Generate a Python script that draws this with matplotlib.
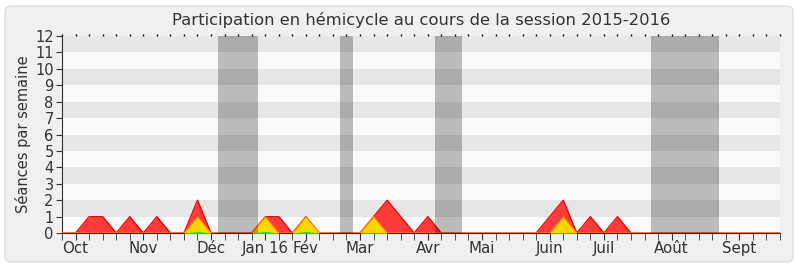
import matplotlib
matplotlib.use('Agg')
import matplotlib.pyplot as plt
from matplotlib.patches import FancyBboxPatch
import numpy as np

# weekly values, week 0 .. 53
weeks = np.arange(54)
presence = [0, 0, 1, 1, 0, 1, 0, 1, 0, 0, 2, 0, 0, 0, 0, 1, 1, 0, 1, 0,
            0, 0, 0, 1, 2, 1, 0, 1, 0, 0, 0, 0, 0, 0, 0, 0, 1, 2, 0, 1,
            0, 1, 0, 0, 0, 0, 0, 0, 0, 0, 0, 0, 0, 0]
interventions = [0] * 54
for w in (10, 15, 18, 23, 37):
    interventions[w] = 1
courtes = [0] * 54
for w, v in ((10, 0.1), (15, 0.1), (18, 0.1), (23, 0.06), (37, 0.05)):
    courtes[w] = v

# holidays (start, end) in weeks
vacances = [(11.5, 14.5), (20.5, 21.5), (27.5, 29.5), (43.5, 48.5)]

month_pos = [1, 6, 11, 15, 18, 22, 27, 31, 36, 40, 45, 50]
month_labels = ['Oct', 'Nov', 'Déc', 'Jan 16', 'Fév', 'Mar', 'Avr', 'Mai',
                'Juin', 'Juil', 'Août', 'Sept']

txt = '#333333'
fig = plt.figure(figsize=(8, 2.67), dpi=100)
fig.patch.set_facecolor('white')
box = FancyBboxPatch((5, 5), 788, 256, boxstyle='round,pad=0,rounding_size=6',
                     transform=None, facecolor='#f0f0f0', edgecolor='#dedede',
                     linewidth=1, zorder=-10)
fig.patches.append(box)

ax = fig.add_axes([0.0775, 0.127, 0.8975, 0.738])
ax.set_facecolor('#fafafa')

for i in range(12):
    ax.axhspan(i, i + 1, color='#fafafa' if i % 2 == 0 else '#e6e6e6',
               lw=0, zorder=0)

ax.fill_between(weeks, presence, color='#ff3a3a', lw=0, zorder=2)
ax.plot(weeks, presence, color='#ff0000', lw=1, zorder=2.1)
ax.fill_between(weeks, interventions, color='#ffd700', lw=0, zorder=3)
ax.plot(weeks, interventions, color='#ff8c00', lw=0.8, zorder=3.1)
ax.fill_between(weeks, courtes, color='#00ee00', lw=0, zorder=4)

for a, b in vacances:
    ax.axvspan(a, b, color='black', alpha=0.25, lw=0, zorder=5)

ax.set_xlim(0, 53)
ax.set_ylim(0, 12)
ax.set_yticks(range(13))
ax.set_xticks(weeks, minor=True)
ax.set_xticks(month_pos)
ax.set_xticklabels(month_labels)
ax.tick_params(axis='x', which='both', direction='out', length=5,
               color='#333333', labelcolor=txt, labelsize=10.8, pad=1)
ax.tick_params(axis='y', direction='out', length=4, color='#333333',
               labelcolor=txt, labelsize=10.5, pad=2)

top = ax.secondary_xaxis('top')
top.set_xticks(weeks)
top.tick_params(length=1.5, width=1, color='black', labeltop=False)
top.spines['top'].set_visible(False)

for s in ('top', 'right'):
    ax.spines[s].set_visible(False)
ax.spines['left'].set_color('#333333')
ax.spines['bottom'].set_color('#5a1a1a')

ax.set_ylabel('Séances par semaine', color=txt, fontsize=10.5, labelpad=3)
ax.set_title('Participation en hémicycle au cours de la session 2015-2016',
             color=txt, fontsize=11.8, pad=8)

fig.savefig('out.png', dpi=100)
